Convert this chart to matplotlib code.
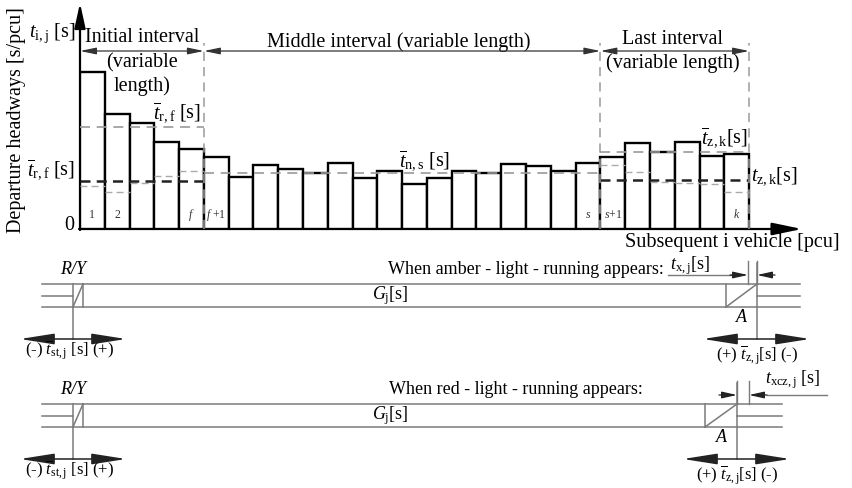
import matplotlib.pyplot as plt

plt.rcParams['font.family'] = 'Liberation Serif'
plt.rcParams['mathtext.fontset'] = 'custom'
plt.rcParams['mathtext.rm'] = 'Liberation Serif'
plt.rcParams['mathtext.it'] = 'Liberation Serif:italic'

# departure headway of every queued vehicle [s]
headways = [3.925, 2.875, 2.65, 2.175, 2.0, 1.8, 1.3, 1.6, 1.5, 1.4, 1.65, 1.275,
            1.45, 1.125, 1.275, 1.45, 1.4, 1.625, 1.575, 1.45, 1.65, 1.8, 2.15,
            1.925, 2.175, 1.825, 1.875]
f_idx, s_idx, k_idx = 5, 21, 27

# interval means and saturation headways [s]
mean_initial = 2.55
mean_middle = 1.4
mean_last = 1.925
sat_initial = 1.19
sat_last = 1.22

# per-vehicle reference headways in the first and last interval [s]
ref_initial = [1.075, 0.925, 1.15, 1.325, 1.45]
ref_last = [1.6, 1.425, 1.175, 1.15, 1.125, 0.925]

bar_label_pos = [1, 2, 5, 6, 21, 22, 27]
bar_label_txt = ['1', '2', '$f$', '$f$ +1', '$s$', '$s$+1', '$k$']

fig = plt.figure(figsize=(8.52, 4.88), dpi=100)

# overlay in pixel units for the schematic parts
ov = fig.add_axes([0, 0, 1, 1], zorder=0)
ov.set_xlim(0, 852)
ov.set_ylim(488, 0)
ov.axis('off')

# headway chart
ax = fig.add_axes([80 / 852, (488 - 229) / 488, 720 / 852, 224 / 488], zorder=1)
ax.set_facecolor('none')
ax.set_xlim(0.5, 0.5 + 720 / 24.78)
ax.set_ylim(0, 5.6)
ax.axis('off')

xs = list(range(1, len(headways) + 1))
ax.bar(xs, headways, width=1.0, facecolor='white', edgecolor='black', linewidth=1.7)

dash_gray = dict(color='#9a9a9a', linewidth=1.2, linestyles=(0, (6, 4)))
ax.hlines(mean_initial, 0.5, f_idx + 0.5, **dash_gray)
ax.hlines(mean_middle, f_idx + 0.5, s_idx + 0.5, **dash_gray)
ax.hlines(mean_last, s_idx + 0.5, k_idx + 0.5, **dash_gray)
for i, v in enumerate(ref_initial):
    ax.hlines(v, i + 0.5, i + 1.5, color='#aaaaaa', linewidth=1.0, linestyles=(0, (5, 3)))
for i, v in enumerate(ref_last):
    x0 = s_idx + 1 + i
    ax.hlines(v, x0 - 0.5, x0 + 0.5, color='#aaaaaa', linewidth=1.0, linestyles=(0, (5, 3)))
ax.hlines(sat_initial, 0.5, f_idx + 0.5, color='#222222', linewidth=1.8, linestyles=(0, (4, 2.5)))
ax.hlines(sat_last, s_idx + 0.5, k_idx + 0.5, color='#222222', linewidth=1.8, linestyles=(0, (4, 2.5)))

# interval borders and dimension arrows
for xb in [f_idx + 0.5, s_idx + 0.5, k_idx + 0.5]:
    ax.vlines(xb, 0, 4.65, color='#9a9a9a', linewidth=1.1, linestyles=(0, (6, 4)), clip_on=False)
for a, b in [(0.5, f_idx + 0.5), (f_idx + 0.5, s_idx + 0.5), (s_idx + 0.5, k_idx + 0.5)]:
    ax.annotate('', xy=(b, 4.45), xytext=(a, 4.45), annotation_clip=False,
                arrowprops=dict(arrowstyle='<|-|>,head_length=1.2,head_width=0.25',
                                color='#333333', lw=0.9, mutation_scale=8, shrinkA=0, shrinkB=0))

for p, t in zip(bar_label_pos, bar_label_txt):
    ax.text(p, 0.35, t, ha='center', va='center', fontsize=8.5, color='#333333')

# axes arrows
ov.annotate('', xy=(80, 3), xytext=(80, 230),
            arrowprops=dict(arrowstyle='-|>,head_length=1.0,head_width=0.22', color='black',
                            lw=1.6, mutation_scale=15, shrinkA=0, shrinkB=0))
ov.annotate('', xy=(802, 229), xytext=(79, 229),
            arrowprops=dict(arrowstyle='-|>,head_length=1.2,head_width=0.25', color='black',
                            lw=1.6, mutation_scale=15, shrinkA=0, shrinkB=0))

fs = 14.5
ov.text(17, 120, 'Departure headways [s/pcu]', rotation=90, ha='center', va='center', fontsize=fs)
ov.text(75, 33, r'$t_{\mathrm{i,j}}$ [s]', ha='right', va='center', fontsize=fs)
ov.text(74, 226, '0', ha='right', va='center', fontsize=fs)
ov.text(142, 37, 'Initial interval', ha='center', va='center', fontsize=fs)
ov.text(142, 63, '(variable', ha='center', va='center', fontsize=fs)
ov.text(142, 86, 'length)', ha='center', va='center', fontsize=fs)
ov.text(399, 42, 'Middle interval (variable length)', ha='center', va='center', fontsize=fs)
ov.text(673, 40, 'Last interval', ha='center', va='center', fontsize=fs)
ov.text(673, 63, '(variable length)', ha='center', va='center', fontsize=fs)
ov.text(75, 170, r'$\overline{t}_{\mathrm{r,f}}$ [s]', ha='right', va='center', fontsize=fs)
ov.text(177, 113, r'$\overline{t}_{\mathrm{r,f}}$ [s]', ha='center', va='center', fontsize=fs)
ov.text(425, 161, r'$\overline{t}_{\mathrm{n,s}}$ [s]', ha='center', va='center', fontsize=fs)
ov.text(724, 138, r'$\overline{t}_{\mathrm{z,k}}$[s]', ha='center', va='center', fontsize=fs)
ov.text(751, 176, r'$t_{\mathrm{z,k}}$[s]', ha='left', va='center', fontsize=fs)
ov.text(840, 243, 'Subsequent i vehicle [pcu]', ha='right', va='center', fontsize=fs)

# signal timelines below the chart
gray = '#7a7a7a'
fs2 = 13


def timeline(y, x_end, a_left, a_right, title, note, note_x, note_y, dim_ticks, note_line):
    top, mid, bot = y, y + 12, y + 23
    ov.plot([42, x_end], [top, top], color=gray, lw=1.1)
    ov.plot([42, x_end], [bot, bot], color=gray, lw=1.1)
    ov.plot([42, 73], [mid, mid], color=gray, lw=1.1)
    ov.plot([a_right, x_end], [mid, mid], color=gray, lw=1.1)
    # start of green (R/Y change)
    ov.plot([73, 73], [top, bot + 32], color=gray, lw=1.1)
    ov.plot([73, 83], [bot, top], color=gray, lw=1.1)
    ov.plot([83, 83], [top, bot], color=gray, lw=1.1)
    # end of green with amber box A
    ov.plot([a_left, a_left], [top, bot], color=gray, lw=1.1)
    ov.plot([a_left, a_right], [bot, top], color=gray, lw=1.1)
    ov.plot([a_right, a_right], [top - 21, bot + 32], color=gray, lw=1.1)
    ov.text(73, y - 14, 'R/Y', ha='center', va='center', fontsize=fs2, style='italic')
    ov.text(390, mid, r'$G_{\mathrm{j}}$[s]', ha='center', va='center', fontsize=fs2)
    ov.text((a_left + a_right) / 2, bot + 11, 'A', ha='center', va='center', fontsize=fs2,
            style='italic')
    ov.text(a_left - 62, y - 14, title, ha='right', va='center', fontsize=fs2)
    # offset arrows
    ya = bot + 32
    style = dict(arrowstyle='<|-|>,head_length=1.4,head_width=0.22', color='#222222', lw=1.1,
                 mutation_scale=15, shrinkA=0, shrinkB=0)
    ov.annotate('', xy=(20, ya), xytext=(126, ya), arrowprops=style)
    ov.annotate('', xy=(a_right - 54, ya), xytext=(a_right + 53, ya), arrowprops=style)
    ov.text(70, ya + 11, r'(-) $\overline{t}_{\mathrm{st,j}}$ [s] (+)', ha='center', va='center',
            fontsize=12)
    ov.text(a_right, ya + 16, r'(+) $\overline{t}_{\mathrm{z,j}}$[s] (-)', ha='center', va='center',
            fontsize=12)
    # dimension of the red/amber running time
    t1, t2 = dim_ticks
    ov.plot([t1, t1], [y - 23, top], color=gray, lw=1.0)
    ov.plot([t2, t2], [y - 23, top], color=gray, lw=1.0)
    yd = y - 9
    small = dict(arrowstyle='-|>,head_length=0.9,head_width=0.2', color='#222222', lw=0.9,
                 mutation_scale=10, shrinkA=0, shrinkB=0)
    ov.annotate('', xy=(t1, yd), xytext=(t1 - 18, yd), arrowprops=small)
    ov.annotate('', xy=(t2, yd), xytext=(t2 + 18, yd), arrowprops=small)
    ov.plot(note_line, [yd, yd], color=gray, lw=1.0)
    ov.text(note_x, note_y, note, ha='left', va='center', fontsize=fs2)


timeline(284, 800, 726, 757, 'When amber - light - running appears:',
         r'$t_{\mathrm{x,j}}$[s]', 670, 266, (748, 757), [668, 732])
timeline(404, 782, 705, 737, 'When red - light - running appears:',
         r'$t_{\mathrm{xcz,j}}$ [s]', 765, 380, (737, 749), [767, 827])

fig.savefig('out.png', dpi=100, facecolor='white')
